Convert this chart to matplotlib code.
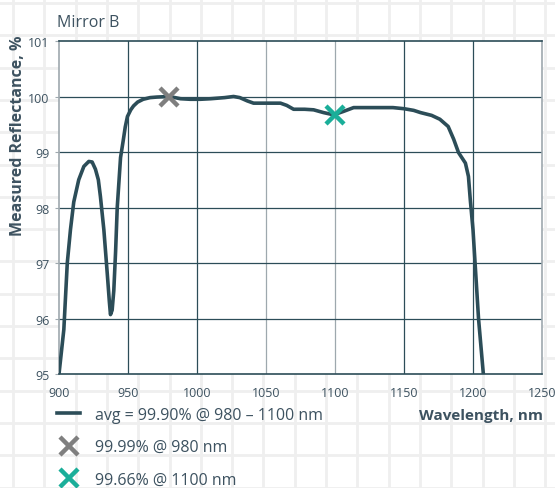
import matplotlib.pyplot as plt
from matplotlib.lines import Line2D

# reflectance curve
wl = [900, 903.5, 906, 908.3, 910.7, 914.3, 918, 921.6, 924, 926.4, 928.5, 930,
      932.5, 935, 936.5, 937.3, 938.5, 939.7, 941, 942.2, 944.6, 946.5, 948, 949.6,
      952, 954, 957, 961, 966, 971, 980, 988, 995, 1002.5, 1010, 1020, 1026.5,
      1031, 1036.5, 1041, 1050, 1060.5, 1065, 1070, 1078, 1084.5, 1091.7, 1099,
      1106, 1113.5, 1125, 1133, 1142, 1150, 1157, 1162, 1170, 1176, 1182, 1186,
      1189.5, 1194.5, 1196.7, 1198, 1200, 1201.5, 1204, 1207.5]
refl = [95.0, 95.8, 97.0, 97.6, 98.1, 98.5, 98.74, 98.83, 98.82, 98.69, 98.5, 98.2,
        97.6, 96.8, 96.3, 96.07, 96.15, 96.5, 97.2, 98.0, 98.9, 99.2, 99.45, 99.64,
        99.76, 99.83, 99.9, 99.95, 99.98, 99.99, 100.0, 99.96, 99.95, 99.95, 99.96,
        99.98, 100.0, 99.98, 99.92, 99.88, 99.88, 99.88, 99.84, 99.77, 99.77, 99.76,
        99.71, 99.67, 99.73, 99.8, 99.8, 99.8, 99.8, 99.78, 99.75, 99.71, 99.66,
        99.59, 99.46, 99.23, 98.99, 98.8, 98.56, 98.15, 97.6, 97.0, 96.0, 95.0]

pt_wl = [980, 1100]
pt_val = [99.99, 99.66]
pt_colors = ['#7f7f7f', '#1aae99']
labels = ['avg = 99.90% @ 980 \u2013 1100 nm', '99.99% @ 980 nm', '99.66% @ 1100 nm']

xticks = [900, 950, 1000, 1050, 1100, 1150, 1200, 1250]
yticks = [95, 96, 97, 98, 99, 100, 101]

plt.rcParams['font.family'] = ['Open Sans', 'DejaVu Sans']
dark = '#2c4d58'
txt = '#3d5260'
pale = '#9ea8ae'

fig = plt.figure(figsize=(5.55, 4.89), dpi=100)

# graph paper background
bg = fig.add_axes([0, 0, 1, 1], zorder=-5)
bg.set_xlim(0, 555)
bg.set_ylim(489, 0)
bg.axis('off')
for i in range(18):
    bg.axvline(13 + 31.3 * i, color='#efefef', lw=2)
for i in range(16):
    bg.axhline(4 + 32.3 * i, color='#efefef', lw=2)

ax = fig.add_axes([59 / 555, 1 - 375 / 489, 483 / 555, 333 / 489])
ax.set_facecolor('white')
ax.set_xlim(900, 1250)
ax.set_ylim(95, 101)
ax.set_xticks(xticks)
ax.set_yticks(yticks)

for x in xticks[1:-1]:
    c = pale if x in (1050, 1100) else dark
    ax.axvline(x, color=c, lw=0.9, zorder=1)
for y in yticks[1:-1]:
    ax.axhline(y, color=dark, lw=0.9, zorder=1)

ax.plot(wl, refl, color=dark, lw=2.6, solid_joinstyle='round',
        solid_capstyle='round', zorder=3, clip_on=True)
for w, v, c in zip(pt_wl, pt_val, pt_colors):
    ax.plot(w, v, marker='x', ms=13, mew=3.2, color=c, zorder=4)

ax.spines['top'].set_color(dark)
ax.spines['bottom'].set_color(dark)
ax.spines['left'].set_color(pale)
ax.spines['right'].set_color(pale)
for s in ax.spines.values():
    s.set_linewidth(1.2)

ax.tick_params(axis='y', length=3, color=pale, pad=4, labelsize=9, labelcolor=txt)
ax.tick_params(axis='x', length=0, pad=9, labelsize=9, labelcolor=txt)

fig.text(57 / 555, 1 - 27 / 489, 'Mirror B', fontsize=11.5, color=txt, va='baseline')
fig.text(18 / 555, 1 - 35 / 489, 'Measured Reflectance, %', rotation=90,
         fontsize=11.5, fontweight='bold', color=txt, ha='center', va='top')
fig.text(543 / 555, 1 - 416 / 489, 'Wavelength, nm', fontsize=11,
         fontweight='bold', color=txt, ha='right', va='center')

handles = [Line2D([], [], color=dark, lw=2.6),
           Line2D([], [], ls='none', marker='x', ms=13, mew=3.2, color=pt_colors[0]),
           Line2D([], [], ls='none', marker='x', ms=13, mew=3.2, color=pt_colors[1])]
leg = fig.legend(handles, labels, loc='upper left',
                 bbox_to_anchor=(57 / 555, 1 - 408 / 489), frameon=False,
                 fontsize=11.5, handlelength=1.45, handletextpad=0.95,
                 labelspacing=1.02, borderpad=0, borderaxespad=0)
for t in leg.get_texts():
    t.set_color(txt)

fig.savefig('out.png', dpi=100)
